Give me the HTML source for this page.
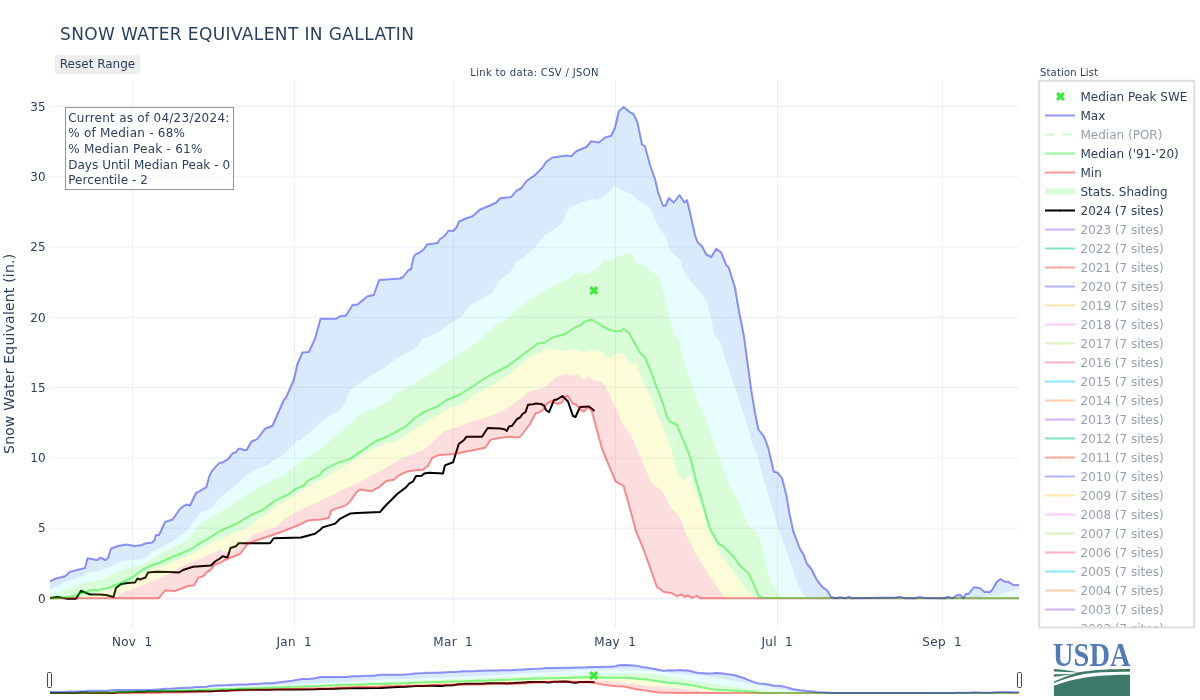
<!DOCTYPE html>
<html lang="en"><head><meta charset="utf-8"><title>Snow Water Equivalent in Gallatin</title>
<style>
html,body{margin:0;padding:0;background:#fff;}
body{width:1200px;height:700px;overflow:hidden;position:relative;font-family:"DejaVu Sans", "Liberation Sans", sans-serif;}
svg{position:absolute;left:0;top:0;display:block;}
svg text{font-family:"DejaVu Sans", "Liberation Sans", sans-serif;fill:#2a3f5f;white-space:pre;}
</style></head><body>
<svg width="1200" height="700" viewBox="0 0 1200 700">
<rect width="1200" height="700" fill="#fff"/>
<defs>
<clipPath id="plotclip"><rect x="50" y="80" width="969" height="548"/></clipPath>
<clipPath id="legclip"><rect x="1040.2" y="81.8" width="153" height="544.7"/></clipPath>
<clipPath id="sliderclip"><rect x="50" y="660" width="969" height="36"/></clipPath>
</defs>

<g><path d="M132.5,80V628" stroke="#ebf0f8" stroke-width="1"/>
<path d="M294.5,80V628" stroke="#ebf0f8" stroke-width="1"/>
<path d="M453.5,80V628" stroke="#ebf0f8" stroke-width="1"/>
<path d="M615.5,80V628" stroke="#ebf0f8" stroke-width="1"/>
<path d="M777.5,80V628" stroke="#ebf0f8" stroke-width="1"/>
<path d="M942.5,80V628" stroke="#ebf0f8" stroke-width="1"/>
<path d="M50,528.15H1019" stroke="#ebf0f8" stroke-width="1"/>
<path d="M50,457.9H1019" stroke="#ebf0f8" stroke-width="1"/>
<path d="M50,387.6H1019" stroke="#ebf0f8" stroke-width="1"/>
<path d="M50,317.4H1019" stroke="#ebf0f8" stroke-width="1"/>
<path d="M50,247.1H1019" stroke="#ebf0f8" stroke-width="1"/>
<path d="M50,176.85H1019" stroke="#ebf0f8" stroke-width="1"/>
<path d="M50,106.6H1019" stroke="#ebf0f8" stroke-width="1"/>
<path d="M50,598.4H1019" stroke="#ebf0f8" stroke-width="2"/></g>
<g clip-path="url(#plotclip)"><path d="M50.00,598.00 L57.50,597.00 L67.50,598.75 L76.00,598.75 L81.00,590.75 L90.00,594.50 L100.00,594.50 L106.00,595.00 L113.50,597.00 L116.00,588.00 L121.00,584.00 L128.00,583.00 L135.00,582.50 L137.50,578.50 L140.00,579.50 L145.50,577.50 L148.00,572.50 L156.00,571.80 L170.00,572.00 L179.00,572.50 L183.00,570.00 L193.00,566.80 L211.00,565.50 L215.00,561.50 L220.00,558.50 L222.50,556.25 L227.50,557.50 L230.50,548.00 L236.00,546.25 L238.75,543.25 L270.00,543.25 L273.75,538.25 L301.00,537.50 L315.00,533.75 L320.00,530.00 L322.60,527.39 L335.17,523.62 L339.57,519.22 L350.01,513.56 L357.50,513.00 L380.00,512.00 L385.00,506.25 L397.50,493.75 L405.95,487.39 L409.10,483.62 L412.87,481.73 L416.01,476.07 L421.67,475.69 L424.19,473.56 L429.22,472.68 L443.05,473.56 L444.93,465.38 L453.11,462.24 L455.62,454.07 L458.76,444.01 L463.79,440.24 L466.31,436.84 L482.03,436.84 L487.68,427.91 L500.00,428.50 L504.50,429.30 L506.80,431.00 L509.00,426.50 L512.00,425.80 L517.00,419.00 L520.00,417.50 L522.50,414.00 L525.50,412.20 L528.00,404.80 L533.00,404.30 L536.00,403.50 L541.00,404.00 L544.00,405.50 L546.00,410.00 L549.00,412.20 L554.00,400.00 L557.00,399.50 L562.50,396.00 L568.00,401.50 L573.00,416.00 L575.50,417.00 L580.00,407.00 L589.00,406.50 L594.50,411.00" fill="none" stroke="#000" stroke-width="2" stroke-linejoin="round" vector-effect="non-scaling-stroke"/>
<path d="M50.00,598.25 L113.00,598.20 L120.00,594.00 L125.00,591.00 L133.00,589.00 L140.00,586.50 L150.00,582.00 L160.00,578.50 L168.00,574.00 L176.00,570.00 L180.00,567.00 L190.00,563.00 L200.00,559.00 L210.00,554.00 L215.00,552.00 L220.00,550.00 L230.00,552.50 L245.00,542.50 L252.50,535.00 L265.00,530.00 L275.44,528.02 L285.50,517.96 L294.30,512.93 L306.88,506.64 L319.45,501.61 L332.03,495.33 L342.08,490.30 L350.01,486.52 L360.06,481.73 L368.86,476.70 L381.43,470.41 L391.49,464.13 L400.30,459.10 L412.87,454.07 L422.93,450.30 L431.73,442.75 L438.02,436.46 L445.56,430.18 L456.88,427.66 L469.45,422.00 L482.03,418.86 L494.60,414.46 L500.00,412.00 L510.00,406.00 L520.00,399.00 L528.00,392.00 L533.00,390.00 L540.00,389.50 L545.00,387.00 L550.00,383.00 L555.00,377.50 L565.00,373.75 L573.75,376.25 L577.50,373.75 L583.75,380.00 L588.75,376.25 L593.00,380.00 L600.00,381.50 L605.00,385.00 L610.00,396.00 L615.00,406.00 L620.00,417.00 L620.60,421.00 L631.80,436.70 L640.00,456.20 L651.30,482.70 L662.40,491.00 L670.80,507.70 L679.00,516.00 L687.50,537.00 L695.80,553.70 L707.00,571.80 L715.30,584.30 L723.70,596.90 L726.00,598.25 L1019.00,598.25 L1019.00,598.25 L700.00,598.25 L697.20,596.00 L691.70,597.70 L687.50,595.50 L684.70,597.00 L681.40,594.40 L677.00,596.30 L672.20,593.30 L663.80,592.00 L656.90,587.00 L650.00,567.60 L643.00,548.00 L636.00,531.40 L629.50,507.00 L623.50,486.00 L615.50,481.30 L602.00,449.00 L592.00,412.00 L590.00,408.50 L587.00,408.00 L584.00,411.50 L582.00,411.00 L576.00,404.50 L573.00,404.00 L567.50,396.00 L564.00,397.50 L562.00,402.50 L557.00,404.00 L552.00,401.00 L546.50,404.00 L544.00,409.00 L540.00,412.00 L535.50,413.50 L530.00,424.00 L524.00,432.00 L520.00,437.00 L515.00,437.50 L509.00,436.80 L500.00,438.00 L490.83,439.61 L485.17,447.78 L475.74,449.67 L463.16,452.18 L454.36,454.07 L438.02,455.33 L432.36,457.84 L427.96,466.01 L422.93,469.78 L415.38,470.16 L406.58,471.67 L397.78,476.07 L394.01,479.84 L386.46,481.10 L378.92,487.39 L371.25,491.25 L360.00,489.50 L356.25,492.50 L350.01,501.61 L345.86,505.38 L338.31,507.90 L331.40,510.41 L328.88,517.96 L320.71,519.47 L308.14,520.47 L300.59,524.24 L293.05,527.39 L280.00,532.50 L270.00,536.00 L257.50,540.00 L247.50,544.00 L240.00,554.00 L225.00,560.00 L220.00,563.00 L215.00,564.50 L210.00,570.50 L207.00,572.00 L203.00,576.50 L198.50,577.50 L194.00,585.50 L188.00,586.00 L175.00,591.00 L165.00,590.50 L159.00,598.20 L50.00,598.25Z" fill="rgba(237,0,0,0.13)"/>
<path d="M50.00,598.25 L77.50,598.00 L100.00,592.00 L110.00,590.00 L120.00,587.00 L128.00,583.00 L134.00,580.00 L142.00,574.00 L150.00,570.50 L160.00,567.00 L170.00,563.00 L180.00,559.00 L190.00,555.00 L200.00,549.50 L210.00,544.00 L215.00,540.00 L220.00,540.00 L235.00,532.50 L246.52,528.02 L256.58,520.47 L266.64,514.19 L275.44,506.64 L288.02,499.10 L294.30,495.33 L306.88,487.78 L319.45,480.24 L332.03,473.32 L342.08,467.66 L350.01,462.63 L360.06,456.58 L372.63,449.04 L385.21,444.01 L394.01,441.49 L402.81,437.72 L415.38,428.92 L425.44,422.63 L438.02,415.09 L450.59,407.54 L463.16,403.77 L466.94,400.00 L480.00,391.00 L492.50,385.00 L505.00,377.50 L517.50,367.50 L530.00,357.50 L540.00,352.50 L547.50,347.50 L555.00,350.00 L565.00,351.25 L573.75,348.75 L585.00,352.50 L593.75,350.00 L602.50,352.50 L607.50,358.75 L615.00,355.00 L622.50,352.50 L630.00,363.75 L636.25,362.50 L640.00,375.00 L646.25,387.50 L652.50,402.50 L658.75,417.50 L661.00,422.00 L670.80,447.90 L679.00,477.00 L684.70,479.90 L688.90,474.30 L695.80,492.40 L707.00,523.00 L715.30,545.30 L726.50,562.00 L734.80,573.20 L746.00,589.90 L754.30,596.90 L757.00,598.25 L1019.00,598.25 L1019.00,598.25 L726.00,598.25 L723.70,596.90 L715.30,584.30 L707.00,571.80 L695.80,553.70 L687.50,537.00 L679.00,516.00 L670.80,507.70 L662.40,491.00 L651.30,482.70 L640.00,456.20 L631.80,436.70 L620.60,421.00 L620.00,417.00 L615.00,406.00 L610.00,396.00 L605.00,385.00 L600.00,381.50 L593.00,380.00 L588.75,376.25 L583.75,380.00 L577.50,373.75 L573.75,376.25 L565.00,373.75 L555.00,377.50 L550.00,383.00 L545.00,387.00 L540.00,389.50 L533.00,390.00 L528.00,392.00 L520.00,399.00 L510.00,406.00 L500.00,412.00 L494.60,414.46 L482.03,418.86 L469.45,422.00 L456.88,427.66 L445.56,430.18 L438.02,436.46 L431.73,442.75 L422.93,450.30 L412.87,454.07 L400.30,459.10 L391.49,464.13 L381.43,470.41 L368.86,476.70 L360.06,481.73 L350.01,486.52 L342.08,490.30 L332.03,495.33 L319.45,501.61 L306.88,506.64 L294.30,512.93 L285.50,517.96 L275.44,528.02 L265.00,530.00 L252.50,535.00 L245.00,542.50 L230.00,552.50 L220.00,550.00 L215.00,552.00 L210.00,554.00 L200.00,559.00 L190.00,563.00 L180.00,567.00 L176.00,570.00 L168.00,574.00 L160.00,578.50 L150.00,582.00 L140.00,586.50 L133.00,589.00 L125.00,591.00 L120.00,594.00 L113.00,598.20 L50.00,598.25Z" fill="rgba(237,237,0,0.15)"/>
<path d="M50.00,595.00 L65.00,590.00 L80.00,584.50 L90.00,581.00 L100.00,580.00 L110.00,576.00 L120.00,571.00 L130.00,567.50 L140.00,565.00 L148.00,561.50 L156.00,556.50 L165.00,551.50 L175.00,547.00 L185.00,542.00 L188.00,540.00 L200.00,523.62 L212.57,516.70 L225.15,509.16 L237.72,500.35 L250.30,492.81 L260.35,486.52 L270.41,481.49 L281.73,476.46 L294.30,467.03 L306.88,457.60 L319.45,450.06 L330.77,440.00 L340.00,432.00 L350.00,424.52 L357.54,416.35 L368.86,410.06 L381.43,405.03 L390.24,400.00 L395.00,393.75 L410.00,386.25 L425.00,377.50 L440.00,366.25 L455.00,357.50 L470.00,347.50 L480.00,340.00 L495.00,325.00 L505.00,320.00 L515.00,311.25 L525.00,302.50 L537.50,295.00 L550.00,287.50 L560.00,282.50 L570.00,278.75 L576.25,272.00 L587.50,273.75 L597.50,268.75 L603.75,260.00 L610.00,261.25 L616.25,256.25 L631.25,253.00 L636.25,262.50 L645.00,266.25 L652.50,272.50 L658.75,277.50 L663.75,292.50 L668.75,315.00 L673.75,335.00 L678.75,340.00 L682.50,357.50 L687.50,372.50 L692.50,385.00 L697.50,400.00 L703.75,415.00 L707.00,422.00 L712.60,439.50 L720.90,461.80 L729.30,485.50 L737.60,499.40 L743.20,514.70 L748.80,525.80 L757.10,532.80 L762.70,548.10 L768.30,573.20 L773.80,587.10 L780.80,596.90 L785.00,598.25 L1019.00,598.25 L1019.00,598.25 L757.00,598.25 L754.30,596.90 L746.00,589.90 L734.80,573.20 L726.50,562.00 L715.30,545.30 L707.00,523.00 L695.80,492.40 L688.90,474.30 L684.70,479.90 L679.00,477.00 L670.80,447.90 L661.00,422.00 L658.75,417.50 L652.50,402.50 L646.25,387.50 L640.00,375.00 L636.25,362.50 L630.00,363.75 L622.50,352.50 L615.00,355.00 L607.50,358.75 L602.50,352.50 L593.75,350.00 L585.00,352.50 L573.75,348.75 L565.00,351.25 L555.00,350.00 L547.50,347.50 L540.00,352.50 L530.00,357.50 L517.50,367.50 L505.00,377.50 L492.50,385.00 L480.00,391.00 L466.94,400.00 L463.16,403.77 L450.59,407.54 L438.02,415.09 L425.44,422.63 L415.38,428.92 L402.81,437.72 L394.01,441.49 L385.21,444.01 L372.63,449.04 L360.06,456.58 L350.01,462.63 L342.08,467.66 L332.03,473.32 L319.45,480.24 L306.88,487.78 L294.30,495.33 L288.02,499.10 L275.44,506.64 L266.64,514.19 L256.58,520.47 L246.52,528.02 L235.00,532.50 L220.00,540.00 L215.00,540.00 L210.00,544.00 L200.00,549.50 L190.00,555.00 L180.00,559.00 L170.00,563.00 L160.00,567.00 L150.00,570.50 L142.00,574.00 L134.00,580.00 L128.00,583.00 L120.00,587.00 L110.00,590.00 L100.00,592.00 L77.50,598.00 L50.00,598.25Z" fill="rgba(0,237,0,0.15)"/>
<path d="M50.00,589.50 L65.00,582.50 L80.00,577.00 L90.00,572.00 L100.00,571.00 L110.00,567.00 L120.00,561.50 L130.00,560.00 L140.00,559.50 L147.00,557.00 L152.00,552.00 L160.00,548.00 L170.00,543.00 L174.00,540.00 L187.50,530.00 L200.00,512.93 L211.32,508.53 L218.86,499.10 L228.92,490.30 L237.72,484.01 L247.78,473.95 L257.84,468.92 L267.90,465.15 L275.44,458.86 L282.99,455.09 L290.53,447.54 L298.08,440.00 L301.00,440.00 L312.50,430.00 L325.00,418.75 L340.00,410.00 L345.00,402.50 L350.00,390.00 L357.50,385.00 L370.00,376.25 L385.00,367.50 L400.00,356.25 L415.00,348.75 L422.50,338.75 L437.50,332.50 L447.50,325.00 L460.00,317.50 L470.00,305.00 L480.00,300.00 L492.50,292.50 L498.75,281.25 L510.00,272.50 L516.25,262.50 L525.00,256.25 L535.00,247.50 L545.00,235.00 L555.00,228.75 L562.50,222.50 L567.50,210.00 L575.00,205.00 L585.00,201.25 L592.50,198.75 L595.00,200.00 L602.50,197.50 L608.75,192.50 L613.75,185.50 L622.50,190.50 L632.50,195.00 L640.00,202.00 L650.00,207.50 L658.75,227.50 L666.25,237.50 L670.00,250.00 L680.00,260.00 L683.75,271.25 L693.75,285.00 L702.50,295.00 L707.50,303.75 L711.25,320.00 L715.00,336.25 L720.00,341.25 L725.00,357.50 L730.00,372.50 L735.00,387.50 L740.00,402.50 L745.00,417.50 L747.50,425.00 L751.60,442.30 L757.10,453.40 L764.10,481.30 L771.00,503.60 L779.40,531.40 L787.80,553.70 L796.10,578.80 L801.70,592.70 L807.30,597.20 L812.00,598.25 L980.00,598.25 L985.00,597.00 L998.50,595.00 L1007.50,592.00 L1019.00,588.75 L1019.00,598.25 L785.00,598.25 L780.80,596.90 L773.80,587.10 L768.30,573.20 L762.70,548.10 L757.10,532.80 L748.80,525.80 L743.20,514.70 L737.60,499.40 L729.30,485.50 L720.90,461.80 L712.60,439.50 L707.00,422.00 L703.75,415.00 L697.50,400.00 L692.50,385.00 L687.50,372.50 L682.50,357.50 L678.75,340.00 L673.75,335.00 L668.75,315.00 L663.75,292.50 L658.75,277.50 L652.50,272.50 L645.00,266.25 L636.25,262.50 L631.25,253.00 L616.25,256.25 L610.00,261.25 L603.75,260.00 L597.50,268.75 L587.50,273.75 L576.25,272.00 L570.00,278.75 L560.00,282.50 L550.00,287.50 L537.50,295.00 L525.00,302.50 L515.00,311.25 L505.00,320.00 L495.00,325.00 L480.00,340.00 L470.00,347.50 L455.00,357.50 L440.00,366.25 L425.00,377.50 L410.00,386.25 L395.00,393.75 L390.24,400.00 L381.43,405.03 L368.86,410.06 L357.54,416.35 L350.00,424.52 L340.00,432.00 L330.77,440.00 L319.45,450.06 L306.88,457.60 L294.30,467.03 L281.73,476.46 L270.41,481.49 L260.35,486.52 L250.30,492.81 L237.72,500.35 L225.15,509.16 L212.57,516.70 L200.00,523.62 L188.00,540.00 L185.00,542.00 L175.00,547.00 L165.00,551.50 L156.00,556.50 L148.00,561.50 L140.00,565.00 L130.00,567.50 L120.00,571.00 L110.00,576.00 L100.00,580.00 L90.00,581.00 L80.00,584.50 L65.00,590.00 L50.00,595.00Z" fill="rgba(0,237,237,0.09)"/>
<path d="M50.00,581.25 L55.00,578.75 L65.00,576.25 L70.00,571.75 L85.00,568.00 L87.50,558.25 L97.50,560.00 L100.00,557.50 L105.50,560.00 L108.00,558.00 L111.00,548.50 L118.00,546.00 L126.00,544.50 L135.00,546.00 L142.00,545.00 L145.00,543.50 L152.00,542.50 L154.50,540.00 L156.00,535.00 L159.00,535.00 L165.00,522.00 L172.50,519.50 L180.00,508.75 L186.00,504.50 L190.00,505.50 L196.00,493.00 L200.00,490.92 L206.29,487.15 L209.43,475.84 L211.95,470.81 L219.49,462.63 L222.63,462.38 L228.29,458.86 L232.69,453.20 L235.84,452.57 L238.35,448.80 L241.49,448.80 L243.38,450.06 L246.52,450.06 L251.55,441.26 L255.33,440.00 L257.50,438.75 L265.00,428.75 L272.50,425.75 L283.75,400.00 L286.00,397.50 L293.75,380.00 L297.50,363.75 L302.50,352.50 L308.75,352.00 L315.00,338.75 L320.50,318.75 L336.00,318.75 L340.00,316.25 L346.00,315.50 L352.50,305.00 L357.50,304.50 L367.50,296.25 L373.75,295.00 L375.50,290.00 L379.00,280.00 L400.00,278.50 L403.00,277.00 L408.00,270.50 L411.00,269.00 L413.50,257.50 L416.00,254.00 L419.00,253.00 L424.00,249.00 L427.00,244.50 L437.50,243.00 L440.00,239.00 L444.00,236.50 L448.50,230.70 L453.50,230.70 L456.50,227.50 L459.00,221.50 L465.00,218.75 L472.50,216.25 L480.00,209.50 L490.00,205.50 L496.25,202.50 L500.00,198.25 L511.25,197.00 L516.25,190.75 L521.25,188.25 L526.25,181.25 L535.00,175.00 L542.50,167.50 L546.25,161.75 L552.50,157.50 L566.25,155.50 L571.25,156.25 L576.25,151.25 L586.25,147.00 L591.25,141.25 L598.75,142.50 L605.00,137.50 L611.25,135.75 L615.00,127.50 L618.75,111.25 L623.75,107.00 L629.50,112.00 L633.75,114.25 L637.50,122.50 L642.00,144.50 L645.00,146.25 L650.00,165.00 L655.00,178.75 L658.00,192.00 L663.00,205.75 L665.50,205.75 L668.75,198.00 L673.75,202.50 L679.50,195.00 L684.50,202.50 L687.00,200.00 L690.00,212.50 L695.00,235.00 L697.50,242.00 L702.00,246.25 L706.25,254.50 L711.25,257.00 L716.25,248.75 L721.25,252.50 L726.25,265.00 L728.75,267.50 L735.00,287.50 L738.75,310.00 L743.75,335.00 L747.50,362.50 L751.25,390.00 L755.00,412.50 L757.50,425.00 L758.50,429.70 L764.10,436.70 L768.30,447.90 L773.80,471.50 L778.00,472.90 L782.20,478.50 L786.40,495.20 L789.20,511.90 L793.30,531.40 L800.30,549.50 L803.90,555.10 L806.70,563.50 L811.40,569.00 L817.00,580.20 L822.60,587.10 L827.30,590.50 L830.90,596.90 L835.10,598.30 L840.70,597.20 L844.90,598.30 L849.00,596.60 L851.80,598.30 L895.30,597.60 L899.60,596.75 L904.90,598.15 L915.40,598.15 L920.10,596.90 L924.10,598.00 L944.50,598.30 L947.50,596.60 L952.40,598.10 L957.25,595.10 L960.25,594.75 L963.25,598.10 L965.90,593.85 L968.50,593.85 L973.75,587.25 L979.75,588.00 L984.60,592.00 L989.90,592.00 L992.50,589.50 L997.00,581.60 L1000.40,579.00 L1005.25,581.85 L1008.25,581.85 L1013.50,585.00 L1019.00,584.85 L1019.00,588.75 L1007.50,592.00 L998.50,595.00 L985.00,597.00 L980.00,598.25 L812.00,598.25 L807.30,597.20 L801.70,592.70 L796.10,578.80 L787.80,553.70 L779.40,531.40 L771.00,503.60 L764.10,481.30 L757.10,453.40 L751.60,442.30 L747.50,425.00 L745.00,417.50 L740.00,402.50 L735.00,387.50 L730.00,372.50 L725.00,357.50 L720.00,341.25 L715.00,336.25 L711.25,320.00 L707.50,303.75 L702.50,295.00 L693.75,285.00 L683.75,271.25 L680.00,260.00 L670.00,250.00 L666.25,237.50 L658.75,227.50 L650.00,207.50 L640.00,202.00 L632.50,195.00 L622.50,190.50 L613.75,185.50 L608.75,192.50 L602.50,197.50 L595.00,200.00 L592.50,198.75 L585.00,201.25 L575.00,205.00 L567.50,210.00 L562.50,222.50 L555.00,228.75 L545.00,235.00 L535.00,247.50 L525.00,256.25 L516.25,262.50 L510.00,272.50 L498.75,281.25 L492.50,292.50 L480.00,300.00 L470.00,305.00 L460.00,317.50 L447.50,325.00 L437.50,332.50 L422.50,338.75 L415.00,348.75 L400.00,356.25 L385.00,367.50 L370.00,376.25 L357.50,385.00 L350.00,390.00 L345.00,402.50 L340.00,410.00 L325.00,418.75 L312.50,430.00 L301.00,440.00 L298.08,440.00 L290.53,447.54 L282.99,455.09 L275.44,458.86 L267.90,465.15 L257.84,468.92 L247.78,473.95 L237.72,484.01 L228.92,490.30 L218.86,499.10 L211.32,508.53 L200.00,512.93 L187.50,530.00 L174.00,540.00 L170.00,543.00 L160.00,548.00 L152.00,552.00 L147.00,557.00 L140.00,559.50 L130.00,560.00 L120.00,561.50 L110.00,567.00 L100.00,571.00 L90.00,572.00 L80.00,577.00 L65.00,582.50 L50.00,589.50Z" fill="rgba(0,115,237,0.15)"/>
<path d="M50.00,598.25 L159.00,598.20 L165.00,590.50 L175.00,591.00 L188.00,586.00 L194.00,585.50 L198.50,577.50 L203.00,576.50 L207.00,572.00 L210.00,570.50 L215.00,564.50 L220.00,563.00 L225.00,560.00 L240.00,554.00 L247.50,544.00 L257.50,540.00 L270.00,536.00 L280.00,532.50 L293.05,527.39 L300.59,524.24 L308.14,520.47 L320.71,519.47 L328.88,517.96 L331.40,510.41 L338.31,507.90 L345.86,505.38 L350.01,501.61 L356.25,492.50 L360.00,489.50 L371.25,491.25 L378.92,487.39 L386.46,481.10 L394.01,479.84 L397.78,476.07 L406.58,471.67 L415.38,470.16 L422.93,469.78 L427.96,466.01 L432.36,457.84 L438.02,455.33 L454.36,454.07 L463.16,452.18 L475.74,449.67 L485.17,447.78 L490.83,439.61 L500.00,438.00 L509.00,436.80 L515.00,437.50 L520.00,437.00 L524.00,432.00 L530.00,424.00 L535.50,413.50 L540.00,412.00 L544.00,409.00 L546.50,404.00 L552.00,401.00 L557.00,404.00 L562.00,402.50 L564.00,397.50 L567.50,396.00 L573.00,404.00 L576.00,404.50 L582.00,411.00 L584.00,411.50 L587.00,408.00 L590.00,408.50 L592.00,412.00 L602.00,449.00 L615.50,481.30 L623.50,486.00 L629.50,507.00 L636.00,531.40 L643.00,548.00 L650.00,567.60 L656.90,587.00 L663.80,592.00 L672.20,593.30 L677.00,596.30 L681.40,594.40 L684.70,597.00 L687.50,595.50 L691.70,597.70 L697.20,596.00 L700.00,598.25 L1019.00,598.25" fill="none" stroke="rgba(237,0,0,0.42)" stroke-width="2" stroke-linejoin="round" vector-effect="non-scaling-stroke"/>
<path d="M50.00,598.50 L62.00,598.00 L68.00,597.25 L73.00,596.00 L76.00,595.00 L80.00,593.50 L86.00,592.00 L91.00,590.00 L95.00,589.75 L98.00,590.75 L100.00,589.50 L108.00,588.00 L116.00,585.00 L124.00,581.50 L132.00,577.50 L138.00,573.00 L143.00,569.50 L150.00,566.00 L160.00,562.50 L170.00,558.00 L180.00,554.00 L190.00,549.50 L196.00,546.00 L200.00,543.00 L206.00,540.00 L220.00,531.00 L228.29,527.39 L237.72,522.99 L250.30,515.44 L262.87,509.78 L275.44,500.35 L288.02,494.70 L294.30,489.67 L304.36,485.27 L307.51,480.87 L319.45,475.21 L323.85,469.55 L338.31,462.63 L350.01,458.86 L362.57,450.30 L375.15,441.49 L387.72,436.46 L400.30,429.55 L406.58,425.78 L415.38,417.60 L425.44,411.32 L438.02,406.29 L446.82,400.00 L460.00,394.50 L475.00,385.00 L480.00,381.25 L495.00,372.50 L507.50,366.25 L522.50,355.00 L537.50,343.75 L545.00,342.50 L552.50,337.50 L565.00,334.25 L575.00,327.50 L581.25,325.00 L583.75,322.00 L591.25,319.50 L597.50,323.00 L602.50,326.25 L610.00,330.00 L616.25,331.25 L621.25,331.25 L623.00,328.75 L628.75,332.50 L635.00,343.75 L640.00,352.50 L645.00,357.50 L651.25,372.50 L656.25,386.25 L660.00,395.00 L663.75,406.25 L666.25,415.00 L669.40,421.40 L676.90,425.00 L684.70,443.70 L690.30,457.60 L695.80,479.90 L702.80,503.60 L709.80,528.60 L718.70,544.00 L723.70,546.70 L734.80,557.90 L739.00,564.80 L748.80,573.80 L754.30,585.70 L758.50,595.50 L762.70,598.00 L1019.00,598.25" fill="none" stroke="rgba(0,237,0,0.42)" stroke-width="2" stroke-linejoin="round" vector-effect="non-scaling-stroke"/>
<path d="M50.00,581.25 L55.00,578.75 L65.00,576.25 L70.00,571.75 L85.00,568.00 L87.50,558.25 L97.50,560.00 L100.00,557.50 L105.50,560.00 L108.00,558.00 L111.00,548.50 L118.00,546.00 L126.00,544.50 L135.00,546.00 L142.00,545.00 L145.00,543.50 L152.00,542.50 L154.50,540.00 L156.00,535.00 L159.00,535.00 L165.00,522.00 L172.50,519.50 L180.00,508.75 L186.00,504.50 L190.00,505.50 L196.00,493.00 L200.00,490.92 L206.29,487.15 L209.43,475.84 L211.95,470.81 L219.49,462.63 L222.63,462.38 L228.29,458.86 L232.69,453.20 L235.84,452.57 L238.35,448.80 L241.49,448.80 L243.38,450.06 L246.52,450.06 L251.55,441.26 L255.33,440.00 L257.50,438.75 L265.00,428.75 L272.50,425.75 L283.75,400.00 L286.00,397.50 L293.75,380.00 L297.50,363.75 L302.50,352.50 L308.75,352.00 L315.00,338.75 L320.50,318.75 L336.00,318.75 L340.00,316.25 L346.00,315.50 L352.50,305.00 L357.50,304.50 L367.50,296.25 L373.75,295.00 L375.50,290.00 L379.00,280.00 L400.00,278.50 L403.00,277.00 L408.00,270.50 L411.00,269.00 L413.50,257.50 L416.00,254.00 L419.00,253.00 L424.00,249.00 L427.00,244.50 L437.50,243.00 L440.00,239.00 L444.00,236.50 L448.50,230.70 L453.50,230.70 L456.50,227.50 L459.00,221.50 L465.00,218.75 L472.50,216.25 L480.00,209.50 L490.00,205.50 L496.25,202.50 L500.00,198.25 L511.25,197.00 L516.25,190.75 L521.25,188.25 L526.25,181.25 L535.00,175.00 L542.50,167.50 L546.25,161.75 L552.50,157.50 L566.25,155.50 L571.25,156.25 L576.25,151.25 L586.25,147.00 L591.25,141.25 L598.75,142.50 L605.00,137.50 L611.25,135.75 L615.00,127.50 L618.75,111.25 L623.75,107.00 L629.50,112.00 L633.75,114.25 L637.50,122.50 L642.00,144.50 L645.00,146.25 L650.00,165.00 L655.00,178.75 L658.00,192.00 L663.00,205.75 L665.50,205.75 L668.75,198.00 L673.75,202.50 L679.50,195.00 L684.50,202.50 L687.00,200.00 L690.00,212.50 L695.00,235.00 L697.50,242.00 L702.00,246.25 L706.25,254.50 L711.25,257.00 L716.25,248.75 L721.25,252.50 L726.25,265.00 L728.75,267.50 L735.00,287.50 L738.75,310.00 L743.75,335.00 L747.50,362.50 L751.25,390.00 L755.00,412.50 L757.50,425.00 L758.50,429.70 L764.10,436.70 L768.30,447.90 L773.80,471.50 L778.00,472.90 L782.20,478.50 L786.40,495.20 L789.20,511.90 L793.30,531.40 L800.30,549.50 L803.90,555.10 L806.70,563.50 L811.40,569.00 L817.00,580.20 L822.60,587.10 L827.30,590.50 L830.90,596.90 L835.10,598.30 L840.70,597.20 L844.90,598.30 L849.00,596.60 L851.80,598.30 L895.30,597.60 L899.60,596.75 L904.90,598.15 L915.40,598.15 L920.10,596.90 L924.10,598.00 L944.50,598.30 L947.50,596.60 L952.40,598.10 L957.25,595.10 L960.25,594.75 L963.25,598.10 L965.90,593.85 L968.50,593.85 L973.75,587.25 L979.75,588.00 L984.60,592.00 L989.90,592.00 L992.50,589.50 L997.00,581.60 L1000.40,579.00 L1005.25,581.85 L1008.25,581.85 L1013.50,585.00 L1019.00,584.85" fill="none" stroke="rgba(0,0,237,0.42)" stroke-width="2" stroke-linejoin="round" vector-effect="non-scaling-stroke"/><path transform="translate(593.75,290.5)" d="M0,2.26l2.26,2.26l2.26,-2.26l-2.26,-2.26l2.26,-2.26l-2.26,-2.26l-2.26,2.26l-2.26,-2.26l-2.26,2.26l2.26,2.26l-2.26,2.26l2.26,2.26Z" fill="#3deb3d"/></g>
<g><text x="132.2" y="646" text-anchor="middle" font-size="12" letter-spacing="0.3">Nov  1</text>
<text x="294.2" y="646" text-anchor="middle" font-size="12" letter-spacing="0.3">Jan  1</text>
<text x="453.2" y="646" text-anchor="middle" font-size="12" letter-spacing="0.3">Mar  1</text>
<text x="615.2" y="646" text-anchor="middle" font-size="12" letter-spacing="0.3">May  1</text>
<text x="777.2" y="646" text-anchor="middle" font-size="12" letter-spacing="0.3">Jul  1</text>
<text x="942.2" y="646" text-anchor="middle" font-size="12" letter-spacing="0.3">Sep  1</text>
<text x="45.6" y="532.4" text-anchor="end" font-size="12">5</text>
<text x="45.6" y="462.1" text-anchor="end" font-size="12">10</text>
<text x="45.6" y="391.8" text-anchor="end" font-size="12">15</text>
<text x="45.6" y="321.6" text-anchor="end" font-size="12">20</text>
<text x="45.6" y="251.3" text-anchor="end" font-size="12">25</text>
<text x="45.6" y="181.0" text-anchor="end" font-size="12">30</text>
<text x="45.6" y="110.8" text-anchor="end" font-size="12">35</text>
<text x="45.6" y="602.6" text-anchor="end" font-size="12">0</text></g>
<text transform="translate(14,353.8) rotate(-90)" text-anchor="middle" font-size="14" letter-spacing="0.2">Snow Water Equivalent (in.)</text>
<text x="60" y="40" font-size="17" letter-spacing="0.38">SNOW WATER EQUIVALENT IN GALLATIN</text>
<rect x="55" y="55" width="85" height="19" rx="2.5" ry="2.5" fill="#eeeeee"/>
<text x="97.5" y="68" text-anchor="middle" font-size="12">Reset Range</text>
<text x="534.5" y="76" text-anchor="middle" font-size="10" letter-spacing="0.33">Link to data: CSV / JSON</text>
<text x="1040" y="76" font-size="10" letter-spacing="0.17">Station List</text>
<rect x="65.5" y="107.5" width="168" height="82" fill="rgba(255,255,255,0.55)" stroke="#969696" stroke-width="1"/>
<text x="68.2" y="121.8" font-size="12" letter-spacing="0.26">Current as of 04/23/2024:</text>
<text x="68.2" y="137.4" font-size="12" letter-spacing="0.24">% of Median - 68%</text>
<text x="68.2" y="153.0" font-size="12" letter-spacing="0.24">% Median Peak - 61%</text>
<text x="68.2" y="168.6" font-size="12" letter-spacing="0.04">Days Until Median Peak - 0</text>
<text x="68.2" y="184.2" font-size="12" letter-spacing="0.07">Percentile - 2</text>
<rect x="1039.2" y="80.8" width="155" height="546.7" fill="#fff" stroke="#dedede" stroke-width="2"/>
<g clip-path="url(#legclip)"><g opacity="1"><path transform="translate(1060.5,96.5)" d="M0,2.26l2.26,2.26l2.26,-2.26l-2.26,-2.26l2.26,-2.26l-2.26,-2.26l-2.26,2.26l-2.26,-2.26l-2.26,2.26l2.26,2.26l-2.26,2.26l2.26,2.26Z" fill="#3deb3d"/><text x="1080.5" y="100.9" font-size="12">Median Peak SWE</text></g>
<g opacity="1"><path d="M1045,115.5h30" stroke="rgba(0,0,237,0.42)" stroke-width="2"/><text x="1080.5" y="119.9" font-size="12">Max</text></g>
<g opacity="0.5"><path d="M1045,134.5h30" stroke="rgba(0,237,0,0.4)" stroke-width="2" stroke-dasharray="9,9"/><text x="1080.5" y="138.9" font-size="12">Median (POR)</text></g>
<g opacity="1"><path d="M1045,153.5h30" stroke="rgba(0,237,0,0.42)" stroke-width="2"/><text x="1080.5" y="157.9" font-size="12">Median ('91-'20)</text></g>
<g opacity="1"><path d="M1045,172.5h30" stroke="rgba(237,0,0,0.42)" stroke-width="2"/><text x="1080.5" y="176.9" font-size="12">Min</text></g>
<g opacity="1"><rect x="1045" y="188.5" width="30" height="6" fill="rgba(0,237,0,0.15)"/><text x="1080.5" y="195.9" font-size="12">Stats. Shading</text></g>
<g opacity="1"><path d="M1045,210.5h30" stroke="#000" stroke-width="2"/><circle cx="1060" cy="210.5" r="1" fill="#000"/><text x="1080.5" y="214.9" font-size="12">2024 (7 sites)</text></g>
<g opacity="0.5"><path d="M1045,229.5h30" stroke="#ab63fa" stroke-width="2"/><circle cx="1060" cy="229.5" r="1" fill="#ab63fa"/><text x="1080.5" y="233.9" font-size="12">2023 (7 sites)</text></g>
<g opacity="0.5"><path d="M1045,248.5h30" stroke="#00cc96" stroke-width="2"/><circle cx="1060" cy="248.5" r="1" fill="#00cc96"/><text x="1080.5" y="252.9" font-size="12">2022 (7 sites)</text></g>
<g opacity="0.5"><path d="M1045,267.5h30" stroke="#EF553B" stroke-width="2"/><circle cx="1060" cy="267.5" r="1" fill="#EF553B"/><text x="1080.5" y="271.9" font-size="12">2021 (7 sites)</text></g>
<g opacity="0.5"><path d="M1045,286.5h30" stroke="#636efa" stroke-width="2"/><circle cx="1060" cy="286.5" r="1" fill="#636efa"/><text x="1080.5" y="290.9" font-size="12">2020 (7 sites)</text></g>
<g opacity="0.5"><path d="M1045,305.5h30" stroke="#FECB52" stroke-width="2"/><circle cx="1060" cy="305.5" r="1" fill="#FECB52"/><text x="1080.5" y="309.9" font-size="12">2019 (7 sites)</text></g>
<g opacity="0.5"><path d="M1045,324.5h30" stroke="#FF97FF" stroke-width="2"/><circle cx="1060" cy="324.5" r="1" fill="#FF97FF"/><text x="1080.5" y="328.9" font-size="12">2018 (7 sites)</text></g>
<g opacity="0.5"><path d="M1045,343.5h30" stroke="#B6E880" stroke-width="2"/><circle cx="1060" cy="343.5" r="1" fill="#B6E880"/><text x="1080.5" y="347.9" font-size="12">2017 (7 sites)</text></g>
<g opacity="0.5"><path d="M1045,362.5h30" stroke="#FF6692" stroke-width="2"/><circle cx="1060" cy="362.5" r="1" fill="#FF6692"/><text x="1080.5" y="366.9" font-size="12">2016 (7 sites)</text></g>
<g opacity="0.5"><path d="M1045,381.5h30" stroke="#19d3f3" stroke-width="2"/><circle cx="1060" cy="381.5" r="1" fill="#19d3f3"/><text x="1080.5" y="385.9" font-size="12">2015 (7 sites)</text></g>
<g opacity="0.5"><path d="M1045,400.5h30" stroke="#FFA15A" stroke-width="2"/><circle cx="1060" cy="400.5" r="1" fill="#FFA15A"/><text x="1080.5" y="404.9" font-size="12">2014 (7 sites)</text></g>
<g opacity="0.5"><path d="M1045,419.5h30" stroke="#ab63fa" stroke-width="2"/><circle cx="1060" cy="419.5" r="1" fill="#ab63fa"/><text x="1080.5" y="423.9" font-size="12">2013 (7 sites)</text></g>
<g opacity="0.5"><path d="M1045,438.5h30" stroke="#00cc96" stroke-width="2"/><circle cx="1060" cy="438.5" r="1" fill="#00cc96"/><text x="1080.5" y="442.9" font-size="12">2012 (7 sites)</text></g>
<g opacity="0.5"><path d="M1045,457.5h30" stroke="#EF553B" stroke-width="2"/><circle cx="1060" cy="457.5" r="1" fill="#EF553B"/><text x="1080.5" y="461.9" font-size="12">2011 (7 sites)</text></g>
<g opacity="0.5"><path d="M1045,476.5h30" stroke="#636efa" stroke-width="2"/><circle cx="1060" cy="476.5" r="1" fill="#636efa"/><text x="1080.5" y="480.9" font-size="12">2010 (7 sites)</text></g>
<g opacity="0.5"><path d="M1045,495.5h30" stroke="#FECB52" stroke-width="2"/><circle cx="1060" cy="495.5" r="1" fill="#FECB52"/><text x="1080.5" y="499.9" font-size="12">2009 (7 sites)</text></g>
<g opacity="0.5"><path d="M1045,514.5h30" stroke="#FF97FF" stroke-width="2"/><circle cx="1060" cy="514.5" r="1" fill="#FF97FF"/><text x="1080.5" y="518.9" font-size="12">2008 (7 sites)</text></g>
<g opacity="0.5"><path d="M1045,533.5h30" stroke="#B6E880" stroke-width="2"/><circle cx="1060" cy="533.5" r="1" fill="#B6E880"/><text x="1080.5" y="537.9" font-size="12">2007 (7 sites)</text></g>
<g opacity="0.5"><path d="M1045,552.5h30" stroke="#FF6692" stroke-width="2"/><circle cx="1060" cy="552.5" r="1" fill="#FF6692"/><text x="1080.5" y="556.9" font-size="12">2006 (7 sites)</text></g>
<g opacity="0.5"><path d="M1045,571.5h30" stroke="#19d3f3" stroke-width="2"/><circle cx="1060" cy="571.5" r="1" fill="#19d3f3"/><text x="1080.5" y="575.9" font-size="12">2005 (7 sites)</text></g>
<g opacity="0.5"><path d="M1045,590.5h30" stroke="#FFA15A" stroke-width="2"/><circle cx="1060" cy="590.5" r="1" fill="#FFA15A"/><text x="1080.5" y="594.9" font-size="12">2004 (7 sites)</text></g>
<g opacity="0.5"><path d="M1045,609.5h30" stroke="#ab63fa" stroke-width="2"/><circle cx="1060" cy="609.5" r="1" fill="#ab63fa"/><text x="1080.5" y="613.9" font-size="12">2003 (7 sites)</text></g>
<g opacity="0.5"><path d="M1045,628.5h30" stroke="#00cc96" stroke-width="2"/><circle cx="1060" cy="628.5" r="1" fill="#00cc96"/><text x="1080.5" y="632.9" font-size="12">2002 (7 sites)</text></g></g>
<g clip-path="url(#sliderclip)"><g transform="translate(0,658.900) scale(1,0.057)"><path d="M50.00,598.00 L57.50,597.00 L67.50,598.75 L76.00,598.75 L81.00,590.75 L90.00,594.50 L100.00,594.50 L106.00,595.00 L113.50,597.00 L116.00,588.00 L121.00,584.00 L128.00,583.00 L135.00,582.50 L137.50,578.50 L140.00,579.50 L145.50,577.50 L148.00,572.50 L156.00,571.80 L170.00,572.00 L179.00,572.50 L183.00,570.00 L193.00,566.80 L211.00,565.50 L215.00,561.50 L220.00,558.50 L222.50,556.25 L227.50,557.50 L230.50,548.00 L236.00,546.25 L238.75,543.25 L270.00,543.25 L273.75,538.25 L301.00,537.50 L315.00,533.75 L320.00,530.00 L322.60,527.39 L335.17,523.62 L339.57,519.22 L350.01,513.56 L357.50,513.00 L380.00,512.00 L385.00,506.25 L397.50,493.75 L405.95,487.39 L409.10,483.62 L412.87,481.73 L416.01,476.07 L421.67,475.69 L424.19,473.56 L429.22,472.68 L443.05,473.56 L444.93,465.38 L453.11,462.24 L455.62,454.07 L458.76,444.01 L463.79,440.24 L466.31,436.84 L482.03,436.84 L487.68,427.91 L500.00,428.50 L504.50,429.30 L506.80,431.00 L509.00,426.50 L512.00,425.80 L517.00,419.00 L520.00,417.50 L522.50,414.00 L525.50,412.20 L528.00,404.80 L533.00,404.30 L536.00,403.50 L541.00,404.00 L544.00,405.50 L546.00,410.00 L549.00,412.20 L554.00,400.00 L557.00,399.50 L562.50,396.00 L568.00,401.50 L573.00,416.00 L575.50,417.00 L580.00,407.00 L589.00,406.50 L594.50,411.00" fill="none" stroke="#000" stroke-width="2" stroke-linejoin="round" vector-effect="non-scaling-stroke"/>
<path d="M50.00,598.25 L113.00,598.20 L120.00,594.00 L125.00,591.00 L133.00,589.00 L140.00,586.50 L150.00,582.00 L160.00,578.50 L168.00,574.00 L176.00,570.00 L180.00,567.00 L190.00,563.00 L200.00,559.00 L210.00,554.00 L215.00,552.00 L220.00,550.00 L230.00,552.50 L245.00,542.50 L252.50,535.00 L265.00,530.00 L275.44,528.02 L285.50,517.96 L294.30,512.93 L306.88,506.64 L319.45,501.61 L332.03,495.33 L342.08,490.30 L350.01,486.52 L360.06,481.73 L368.86,476.70 L381.43,470.41 L391.49,464.13 L400.30,459.10 L412.87,454.07 L422.93,450.30 L431.73,442.75 L438.02,436.46 L445.56,430.18 L456.88,427.66 L469.45,422.00 L482.03,418.86 L494.60,414.46 L500.00,412.00 L510.00,406.00 L520.00,399.00 L528.00,392.00 L533.00,390.00 L540.00,389.50 L545.00,387.00 L550.00,383.00 L555.00,377.50 L565.00,373.75 L573.75,376.25 L577.50,373.75 L583.75,380.00 L588.75,376.25 L593.00,380.00 L600.00,381.50 L605.00,385.00 L610.00,396.00 L615.00,406.00 L620.00,417.00 L620.60,421.00 L631.80,436.70 L640.00,456.20 L651.30,482.70 L662.40,491.00 L670.80,507.70 L679.00,516.00 L687.50,537.00 L695.80,553.70 L707.00,571.80 L715.30,584.30 L723.70,596.90 L726.00,598.25 L1019.00,598.25 L1019.00,598.25 L700.00,598.25 L697.20,596.00 L691.70,597.70 L687.50,595.50 L684.70,597.00 L681.40,594.40 L677.00,596.30 L672.20,593.30 L663.80,592.00 L656.90,587.00 L650.00,567.60 L643.00,548.00 L636.00,531.40 L629.50,507.00 L623.50,486.00 L615.50,481.30 L602.00,449.00 L592.00,412.00 L590.00,408.50 L587.00,408.00 L584.00,411.50 L582.00,411.00 L576.00,404.50 L573.00,404.00 L567.50,396.00 L564.00,397.50 L562.00,402.50 L557.00,404.00 L552.00,401.00 L546.50,404.00 L544.00,409.00 L540.00,412.00 L535.50,413.50 L530.00,424.00 L524.00,432.00 L520.00,437.00 L515.00,437.50 L509.00,436.80 L500.00,438.00 L490.83,439.61 L485.17,447.78 L475.74,449.67 L463.16,452.18 L454.36,454.07 L438.02,455.33 L432.36,457.84 L427.96,466.01 L422.93,469.78 L415.38,470.16 L406.58,471.67 L397.78,476.07 L394.01,479.84 L386.46,481.10 L378.92,487.39 L371.25,491.25 L360.00,489.50 L356.25,492.50 L350.01,501.61 L345.86,505.38 L338.31,507.90 L331.40,510.41 L328.88,517.96 L320.71,519.47 L308.14,520.47 L300.59,524.24 L293.05,527.39 L280.00,532.50 L270.00,536.00 L257.50,540.00 L247.50,544.00 L240.00,554.00 L225.00,560.00 L220.00,563.00 L215.00,564.50 L210.00,570.50 L207.00,572.00 L203.00,576.50 L198.50,577.50 L194.00,585.50 L188.00,586.00 L175.00,591.00 L165.00,590.50 L159.00,598.20 L50.00,598.25Z" fill="rgba(237,0,0,0.13)"/>
<path d="M50.00,598.25 L77.50,598.00 L100.00,592.00 L110.00,590.00 L120.00,587.00 L128.00,583.00 L134.00,580.00 L142.00,574.00 L150.00,570.50 L160.00,567.00 L170.00,563.00 L180.00,559.00 L190.00,555.00 L200.00,549.50 L210.00,544.00 L215.00,540.00 L220.00,540.00 L235.00,532.50 L246.52,528.02 L256.58,520.47 L266.64,514.19 L275.44,506.64 L288.02,499.10 L294.30,495.33 L306.88,487.78 L319.45,480.24 L332.03,473.32 L342.08,467.66 L350.01,462.63 L360.06,456.58 L372.63,449.04 L385.21,444.01 L394.01,441.49 L402.81,437.72 L415.38,428.92 L425.44,422.63 L438.02,415.09 L450.59,407.54 L463.16,403.77 L466.94,400.00 L480.00,391.00 L492.50,385.00 L505.00,377.50 L517.50,367.50 L530.00,357.50 L540.00,352.50 L547.50,347.50 L555.00,350.00 L565.00,351.25 L573.75,348.75 L585.00,352.50 L593.75,350.00 L602.50,352.50 L607.50,358.75 L615.00,355.00 L622.50,352.50 L630.00,363.75 L636.25,362.50 L640.00,375.00 L646.25,387.50 L652.50,402.50 L658.75,417.50 L661.00,422.00 L670.80,447.90 L679.00,477.00 L684.70,479.90 L688.90,474.30 L695.80,492.40 L707.00,523.00 L715.30,545.30 L726.50,562.00 L734.80,573.20 L746.00,589.90 L754.30,596.90 L757.00,598.25 L1019.00,598.25 L1019.00,598.25 L726.00,598.25 L723.70,596.90 L715.30,584.30 L707.00,571.80 L695.80,553.70 L687.50,537.00 L679.00,516.00 L670.80,507.70 L662.40,491.00 L651.30,482.70 L640.00,456.20 L631.80,436.70 L620.60,421.00 L620.00,417.00 L615.00,406.00 L610.00,396.00 L605.00,385.00 L600.00,381.50 L593.00,380.00 L588.75,376.25 L583.75,380.00 L577.50,373.75 L573.75,376.25 L565.00,373.75 L555.00,377.50 L550.00,383.00 L545.00,387.00 L540.00,389.50 L533.00,390.00 L528.00,392.00 L520.00,399.00 L510.00,406.00 L500.00,412.00 L494.60,414.46 L482.03,418.86 L469.45,422.00 L456.88,427.66 L445.56,430.18 L438.02,436.46 L431.73,442.75 L422.93,450.30 L412.87,454.07 L400.30,459.10 L391.49,464.13 L381.43,470.41 L368.86,476.70 L360.06,481.73 L350.01,486.52 L342.08,490.30 L332.03,495.33 L319.45,501.61 L306.88,506.64 L294.30,512.93 L285.50,517.96 L275.44,528.02 L265.00,530.00 L252.50,535.00 L245.00,542.50 L230.00,552.50 L220.00,550.00 L215.00,552.00 L210.00,554.00 L200.00,559.00 L190.00,563.00 L180.00,567.00 L176.00,570.00 L168.00,574.00 L160.00,578.50 L150.00,582.00 L140.00,586.50 L133.00,589.00 L125.00,591.00 L120.00,594.00 L113.00,598.20 L50.00,598.25Z" fill="rgba(237,237,0,0.15)"/>
<path d="M50.00,595.00 L65.00,590.00 L80.00,584.50 L90.00,581.00 L100.00,580.00 L110.00,576.00 L120.00,571.00 L130.00,567.50 L140.00,565.00 L148.00,561.50 L156.00,556.50 L165.00,551.50 L175.00,547.00 L185.00,542.00 L188.00,540.00 L200.00,523.62 L212.57,516.70 L225.15,509.16 L237.72,500.35 L250.30,492.81 L260.35,486.52 L270.41,481.49 L281.73,476.46 L294.30,467.03 L306.88,457.60 L319.45,450.06 L330.77,440.00 L340.00,432.00 L350.00,424.52 L357.54,416.35 L368.86,410.06 L381.43,405.03 L390.24,400.00 L395.00,393.75 L410.00,386.25 L425.00,377.50 L440.00,366.25 L455.00,357.50 L470.00,347.50 L480.00,340.00 L495.00,325.00 L505.00,320.00 L515.00,311.25 L525.00,302.50 L537.50,295.00 L550.00,287.50 L560.00,282.50 L570.00,278.75 L576.25,272.00 L587.50,273.75 L597.50,268.75 L603.75,260.00 L610.00,261.25 L616.25,256.25 L631.25,253.00 L636.25,262.50 L645.00,266.25 L652.50,272.50 L658.75,277.50 L663.75,292.50 L668.75,315.00 L673.75,335.00 L678.75,340.00 L682.50,357.50 L687.50,372.50 L692.50,385.00 L697.50,400.00 L703.75,415.00 L707.00,422.00 L712.60,439.50 L720.90,461.80 L729.30,485.50 L737.60,499.40 L743.20,514.70 L748.80,525.80 L757.10,532.80 L762.70,548.10 L768.30,573.20 L773.80,587.10 L780.80,596.90 L785.00,598.25 L1019.00,598.25 L1019.00,598.25 L757.00,598.25 L754.30,596.90 L746.00,589.90 L734.80,573.20 L726.50,562.00 L715.30,545.30 L707.00,523.00 L695.80,492.40 L688.90,474.30 L684.70,479.90 L679.00,477.00 L670.80,447.90 L661.00,422.00 L658.75,417.50 L652.50,402.50 L646.25,387.50 L640.00,375.00 L636.25,362.50 L630.00,363.75 L622.50,352.50 L615.00,355.00 L607.50,358.75 L602.50,352.50 L593.75,350.00 L585.00,352.50 L573.75,348.75 L565.00,351.25 L555.00,350.00 L547.50,347.50 L540.00,352.50 L530.00,357.50 L517.50,367.50 L505.00,377.50 L492.50,385.00 L480.00,391.00 L466.94,400.00 L463.16,403.77 L450.59,407.54 L438.02,415.09 L425.44,422.63 L415.38,428.92 L402.81,437.72 L394.01,441.49 L385.21,444.01 L372.63,449.04 L360.06,456.58 L350.01,462.63 L342.08,467.66 L332.03,473.32 L319.45,480.24 L306.88,487.78 L294.30,495.33 L288.02,499.10 L275.44,506.64 L266.64,514.19 L256.58,520.47 L246.52,528.02 L235.00,532.50 L220.00,540.00 L215.00,540.00 L210.00,544.00 L200.00,549.50 L190.00,555.00 L180.00,559.00 L170.00,563.00 L160.00,567.00 L150.00,570.50 L142.00,574.00 L134.00,580.00 L128.00,583.00 L120.00,587.00 L110.00,590.00 L100.00,592.00 L77.50,598.00 L50.00,598.25Z" fill="rgba(0,237,0,0.15)"/>
<path d="M50.00,589.50 L65.00,582.50 L80.00,577.00 L90.00,572.00 L100.00,571.00 L110.00,567.00 L120.00,561.50 L130.00,560.00 L140.00,559.50 L147.00,557.00 L152.00,552.00 L160.00,548.00 L170.00,543.00 L174.00,540.00 L187.50,530.00 L200.00,512.93 L211.32,508.53 L218.86,499.10 L228.92,490.30 L237.72,484.01 L247.78,473.95 L257.84,468.92 L267.90,465.15 L275.44,458.86 L282.99,455.09 L290.53,447.54 L298.08,440.00 L301.00,440.00 L312.50,430.00 L325.00,418.75 L340.00,410.00 L345.00,402.50 L350.00,390.00 L357.50,385.00 L370.00,376.25 L385.00,367.50 L400.00,356.25 L415.00,348.75 L422.50,338.75 L437.50,332.50 L447.50,325.00 L460.00,317.50 L470.00,305.00 L480.00,300.00 L492.50,292.50 L498.75,281.25 L510.00,272.50 L516.25,262.50 L525.00,256.25 L535.00,247.50 L545.00,235.00 L555.00,228.75 L562.50,222.50 L567.50,210.00 L575.00,205.00 L585.00,201.25 L592.50,198.75 L595.00,200.00 L602.50,197.50 L608.75,192.50 L613.75,185.50 L622.50,190.50 L632.50,195.00 L640.00,202.00 L650.00,207.50 L658.75,227.50 L666.25,237.50 L670.00,250.00 L680.00,260.00 L683.75,271.25 L693.75,285.00 L702.50,295.00 L707.50,303.75 L711.25,320.00 L715.00,336.25 L720.00,341.25 L725.00,357.50 L730.00,372.50 L735.00,387.50 L740.00,402.50 L745.00,417.50 L747.50,425.00 L751.60,442.30 L757.10,453.40 L764.10,481.30 L771.00,503.60 L779.40,531.40 L787.80,553.70 L796.10,578.80 L801.70,592.70 L807.30,597.20 L812.00,598.25 L980.00,598.25 L985.00,597.00 L998.50,595.00 L1007.50,592.00 L1019.00,588.75 L1019.00,598.25 L785.00,598.25 L780.80,596.90 L773.80,587.10 L768.30,573.20 L762.70,548.10 L757.10,532.80 L748.80,525.80 L743.20,514.70 L737.60,499.40 L729.30,485.50 L720.90,461.80 L712.60,439.50 L707.00,422.00 L703.75,415.00 L697.50,400.00 L692.50,385.00 L687.50,372.50 L682.50,357.50 L678.75,340.00 L673.75,335.00 L668.75,315.00 L663.75,292.50 L658.75,277.50 L652.50,272.50 L645.00,266.25 L636.25,262.50 L631.25,253.00 L616.25,256.25 L610.00,261.25 L603.75,260.00 L597.50,268.75 L587.50,273.75 L576.25,272.00 L570.00,278.75 L560.00,282.50 L550.00,287.50 L537.50,295.00 L525.00,302.50 L515.00,311.25 L505.00,320.00 L495.00,325.00 L480.00,340.00 L470.00,347.50 L455.00,357.50 L440.00,366.25 L425.00,377.50 L410.00,386.25 L395.00,393.75 L390.24,400.00 L381.43,405.03 L368.86,410.06 L357.54,416.35 L350.00,424.52 L340.00,432.00 L330.77,440.00 L319.45,450.06 L306.88,457.60 L294.30,467.03 L281.73,476.46 L270.41,481.49 L260.35,486.52 L250.30,492.81 L237.72,500.35 L225.15,509.16 L212.57,516.70 L200.00,523.62 L188.00,540.00 L185.00,542.00 L175.00,547.00 L165.00,551.50 L156.00,556.50 L148.00,561.50 L140.00,565.00 L130.00,567.50 L120.00,571.00 L110.00,576.00 L100.00,580.00 L90.00,581.00 L80.00,584.50 L65.00,590.00 L50.00,595.00Z" fill="rgba(0,237,237,0.09)"/>
<path d="M50.00,581.25 L55.00,578.75 L65.00,576.25 L70.00,571.75 L85.00,568.00 L87.50,558.25 L97.50,560.00 L100.00,557.50 L105.50,560.00 L108.00,558.00 L111.00,548.50 L118.00,546.00 L126.00,544.50 L135.00,546.00 L142.00,545.00 L145.00,543.50 L152.00,542.50 L154.50,540.00 L156.00,535.00 L159.00,535.00 L165.00,522.00 L172.50,519.50 L180.00,508.75 L186.00,504.50 L190.00,505.50 L196.00,493.00 L200.00,490.92 L206.29,487.15 L209.43,475.84 L211.95,470.81 L219.49,462.63 L222.63,462.38 L228.29,458.86 L232.69,453.20 L235.84,452.57 L238.35,448.80 L241.49,448.80 L243.38,450.06 L246.52,450.06 L251.55,441.26 L255.33,440.00 L257.50,438.75 L265.00,428.75 L272.50,425.75 L283.75,400.00 L286.00,397.50 L293.75,380.00 L297.50,363.75 L302.50,352.50 L308.75,352.00 L315.00,338.75 L320.50,318.75 L336.00,318.75 L340.00,316.25 L346.00,315.50 L352.50,305.00 L357.50,304.50 L367.50,296.25 L373.75,295.00 L375.50,290.00 L379.00,280.00 L400.00,278.50 L403.00,277.00 L408.00,270.50 L411.00,269.00 L413.50,257.50 L416.00,254.00 L419.00,253.00 L424.00,249.00 L427.00,244.50 L437.50,243.00 L440.00,239.00 L444.00,236.50 L448.50,230.70 L453.50,230.70 L456.50,227.50 L459.00,221.50 L465.00,218.75 L472.50,216.25 L480.00,209.50 L490.00,205.50 L496.25,202.50 L500.00,198.25 L511.25,197.00 L516.25,190.75 L521.25,188.25 L526.25,181.25 L535.00,175.00 L542.50,167.50 L546.25,161.75 L552.50,157.50 L566.25,155.50 L571.25,156.25 L576.25,151.25 L586.25,147.00 L591.25,141.25 L598.75,142.50 L605.00,137.50 L611.25,135.75 L615.00,127.50 L618.75,111.25 L623.75,107.00 L629.50,112.00 L633.75,114.25 L637.50,122.50 L642.00,144.50 L645.00,146.25 L650.00,165.00 L655.00,178.75 L658.00,192.00 L663.00,205.75 L665.50,205.75 L668.75,198.00 L673.75,202.50 L679.50,195.00 L684.50,202.50 L687.00,200.00 L690.00,212.50 L695.00,235.00 L697.50,242.00 L702.00,246.25 L706.25,254.50 L711.25,257.00 L716.25,248.75 L721.25,252.50 L726.25,265.00 L728.75,267.50 L735.00,287.50 L738.75,310.00 L743.75,335.00 L747.50,362.50 L751.25,390.00 L755.00,412.50 L757.50,425.00 L758.50,429.70 L764.10,436.70 L768.30,447.90 L773.80,471.50 L778.00,472.90 L782.20,478.50 L786.40,495.20 L789.20,511.90 L793.30,531.40 L800.30,549.50 L803.90,555.10 L806.70,563.50 L811.40,569.00 L817.00,580.20 L822.60,587.10 L827.30,590.50 L830.90,596.90 L835.10,598.30 L840.70,597.20 L844.90,598.30 L849.00,596.60 L851.80,598.30 L895.30,597.60 L899.60,596.75 L904.90,598.15 L915.40,598.15 L920.10,596.90 L924.10,598.00 L944.50,598.30 L947.50,596.60 L952.40,598.10 L957.25,595.10 L960.25,594.75 L963.25,598.10 L965.90,593.85 L968.50,593.85 L973.75,587.25 L979.75,588.00 L984.60,592.00 L989.90,592.00 L992.50,589.50 L997.00,581.60 L1000.40,579.00 L1005.25,581.85 L1008.25,581.85 L1013.50,585.00 L1019.00,584.85 L1019.00,588.75 L1007.50,592.00 L998.50,595.00 L985.00,597.00 L980.00,598.25 L812.00,598.25 L807.30,597.20 L801.70,592.70 L796.10,578.80 L787.80,553.70 L779.40,531.40 L771.00,503.60 L764.10,481.30 L757.10,453.40 L751.60,442.30 L747.50,425.00 L745.00,417.50 L740.00,402.50 L735.00,387.50 L730.00,372.50 L725.00,357.50 L720.00,341.25 L715.00,336.25 L711.25,320.00 L707.50,303.75 L702.50,295.00 L693.75,285.00 L683.75,271.25 L680.00,260.00 L670.00,250.00 L666.25,237.50 L658.75,227.50 L650.00,207.50 L640.00,202.00 L632.50,195.00 L622.50,190.50 L613.75,185.50 L608.75,192.50 L602.50,197.50 L595.00,200.00 L592.50,198.75 L585.00,201.25 L575.00,205.00 L567.50,210.00 L562.50,222.50 L555.00,228.75 L545.00,235.00 L535.00,247.50 L525.00,256.25 L516.25,262.50 L510.00,272.50 L498.75,281.25 L492.50,292.50 L480.00,300.00 L470.00,305.00 L460.00,317.50 L447.50,325.00 L437.50,332.50 L422.50,338.75 L415.00,348.75 L400.00,356.25 L385.00,367.50 L370.00,376.25 L357.50,385.00 L350.00,390.00 L345.00,402.50 L340.00,410.00 L325.00,418.75 L312.50,430.00 L301.00,440.00 L298.08,440.00 L290.53,447.54 L282.99,455.09 L275.44,458.86 L267.90,465.15 L257.84,468.92 L247.78,473.95 L237.72,484.01 L228.92,490.30 L218.86,499.10 L211.32,508.53 L200.00,512.93 L187.50,530.00 L174.00,540.00 L170.00,543.00 L160.00,548.00 L152.00,552.00 L147.00,557.00 L140.00,559.50 L130.00,560.00 L120.00,561.50 L110.00,567.00 L100.00,571.00 L90.00,572.00 L80.00,577.00 L65.00,582.50 L50.00,589.50Z" fill="rgba(0,115,237,0.15)"/>
<path d="M50.00,598.25 L159.00,598.20 L165.00,590.50 L175.00,591.00 L188.00,586.00 L194.00,585.50 L198.50,577.50 L203.00,576.50 L207.00,572.00 L210.00,570.50 L215.00,564.50 L220.00,563.00 L225.00,560.00 L240.00,554.00 L247.50,544.00 L257.50,540.00 L270.00,536.00 L280.00,532.50 L293.05,527.39 L300.59,524.24 L308.14,520.47 L320.71,519.47 L328.88,517.96 L331.40,510.41 L338.31,507.90 L345.86,505.38 L350.01,501.61 L356.25,492.50 L360.00,489.50 L371.25,491.25 L378.92,487.39 L386.46,481.10 L394.01,479.84 L397.78,476.07 L406.58,471.67 L415.38,470.16 L422.93,469.78 L427.96,466.01 L432.36,457.84 L438.02,455.33 L454.36,454.07 L463.16,452.18 L475.74,449.67 L485.17,447.78 L490.83,439.61 L500.00,438.00 L509.00,436.80 L515.00,437.50 L520.00,437.00 L524.00,432.00 L530.00,424.00 L535.50,413.50 L540.00,412.00 L544.00,409.00 L546.50,404.00 L552.00,401.00 L557.00,404.00 L562.00,402.50 L564.00,397.50 L567.50,396.00 L573.00,404.00 L576.00,404.50 L582.00,411.00 L584.00,411.50 L587.00,408.00 L590.00,408.50 L592.00,412.00 L602.00,449.00 L615.50,481.30 L623.50,486.00 L629.50,507.00 L636.00,531.40 L643.00,548.00 L650.00,567.60 L656.90,587.00 L663.80,592.00 L672.20,593.30 L677.00,596.30 L681.40,594.40 L684.70,597.00 L687.50,595.50 L691.70,597.70 L697.20,596.00 L700.00,598.25 L1019.00,598.25" fill="none" stroke="rgba(237,0,0,0.42)" stroke-width="2" stroke-linejoin="round" vector-effect="non-scaling-stroke"/>
<path d="M50.00,598.50 L62.00,598.00 L68.00,597.25 L73.00,596.00 L76.00,595.00 L80.00,593.50 L86.00,592.00 L91.00,590.00 L95.00,589.75 L98.00,590.75 L100.00,589.50 L108.00,588.00 L116.00,585.00 L124.00,581.50 L132.00,577.50 L138.00,573.00 L143.00,569.50 L150.00,566.00 L160.00,562.50 L170.00,558.00 L180.00,554.00 L190.00,549.50 L196.00,546.00 L200.00,543.00 L206.00,540.00 L220.00,531.00 L228.29,527.39 L237.72,522.99 L250.30,515.44 L262.87,509.78 L275.44,500.35 L288.02,494.70 L294.30,489.67 L304.36,485.27 L307.51,480.87 L319.45,475.21 L323.85,469.55 L338.31,462.63 L350.01,458.86 L362.57,450.30 L375.15,441.49 L387.72,436.46 L400.30,429.55 L406.58,425.78 L415.38,417.60 L425.44,411.32 L438.02,406.29 L446.82,400.00 L460.00,394.50 L475.00,385.00 L480.00,381.25 L495.00,372.50 L507.50,366.25 L522.50,355.00 L537.50,343.75 L545.00,342.50 L552.50,337.50 L565.00,334.25 L575.00,327.50 L581.25,325.00 L583.75,322.00 L591.25,319.50 L597.50,323.00 L602.50,326.25 L610.00,330.00 L616.25,331.25 L621.25,331.25 L623.00,328.75 L628.75,332.50 L635.00,343.75 L640.00,352.50 L645.00,357.50 L651.25,372.50 L656.25,386.25 L660.00,395.00 L663.75,406.25 L666.25,415.00 L669.40,421.40 L676.90,425.00 L684.70,443.70 L690.30,457.60 L695.80,479.90 L702.80,503.60 L709.80,528.60 L718.70,544.00 L723.70,546.70 L734.80,557.90 L739.00,564.80 L748.80,573.80 L754.30,585.70 L758.50,595.50 L762.70,598.00 L1019.00,598.25" fill="none" stroke="rgba(0,237,0,0.42)" stroke-width="2" stroke-linejoin="round" vector-effect="non-scaling-stroke"/>
<path d="M50.00,581.25 L55.00,578.75 L65.00,576.25 L70.00,571.75 L85.00,568.00 L87.50,558.25 L97.50,560.00 L100.00,557.50 L105.50,560.00 L108.00,558.00 L111.00,548.50 L118.00,546.00 L126.00,544.50 L135.00,546.00 L142.00,545.00 L145.00,543.50 L152.00,542.50 L154.50,540.00 L156.00,535.00 L159.00,535.00 L165.00,522.00 L172.50,519.50 L180.00,508.75 L186.00,504.50 L190.00,505.50 L196.00,493.00 L200.00,490.92 L206.29,487.15 L209.43,475.84 L211.95,470.81 L219.49,462.63 L222.63,462.38 L228.29,458.86 L232.69,453.20 L235.84,452.57 L238.35,448.80 L241.49,448.80 L243.38,450.06 L246.52,450.06 L251.55,441.26 L255.33,440.00 L257.50,438.75 L265.00,428.75 L272.50,425.75 L283.75,400.00 L286.00,397.50 L293.75,380.00 L297.50,363.75 L302.50,352.50 L308.75,352.00 L315.00,338.75 L320.50,318.75 L336.00,318.75 L340.00,316.25 L346.00,315.50 L352.50,305.00 L357.50,304.50 L367.50,296.25 L373.75,295.00 L375.50,290.00 L379.00,280.00 L400.00,278.50 L403.00,277.00 L408.00,270.50 L411.00,269.00 L413.50,257.50 L416.00,254.00 L419.00,253.00 L424.00,249.00 L427.00,244.50 L437.50,243.00 L440.00,239.00 L444.00,236.50 L448.50,230.70 L453.50,230.70 L456.50,227.50 L459.00,221.50 L465.00,218.75 L472.50,216.25 L480.00,209.50 L490.00,205.50 L496.25,202.50 L500.00,198.25 L511.25,197.00 L516.25,190.75 L521.25,188.25 L526.25,181.25 L535.00,175.00 L542.50,167.50 L546.25,161.75 L552.50,157.50 L566.25,155.50 L571.25,156.25 L576.25,151.25 L586.25,147.00 L591.25,141.25 L598.75,142.50 L605.00,137.50 L611.25,135.75 L615.00,127.50 L618.75,111.25 L623.75,107.00 L629.50,112.00 L633.75,114.25 L637.50,122.50 L642.00,144.50 L645.00,146.25 L650.00,165.00 L655.00,178.75 L658.00,192.00 L663.00,205.75 L665.50,205.75 L668.75,198.00 L673.75,202.50 L679.50,195.00 L684.50,202.50 L687.00,200.00 L690.00,212.50 L695.00,235.00 L697.50,242.00 L702.00,246.25 L706.25,254.50 L711.25,257.00 L716.25,248.75 L721.25,252.50 L726.25,265.00 L728.75,267.50 L735.00,287.50 L738.75,310.00 L743.75,335.00 L747.50,362.50 L751.25,390.00 L755.00,412.50 L757.50,425.00 L758.50,429.70 L764.10,436.70 L768.30,447.90 L773.80,471.50 L778.00,472.90 L782.20,478.50 L786.40,495.20 L789.20,511.90 L793.30,531.40 L800.30,549.50 L803.90,555.10 L806.70,563.50 L811.40,569.00 L817.00,580.20 L822.60,587.10 L827.30,590.50 L830.90,596.90 L835.10,598.30 L840.70,597.20 L844.90,598.30 L849.00,596.60 L851.80,598.30 L895.30,597.60 L899.60,596.75 L904.90,598.15 L915.40,598.15 L920.10,596.90 L924.10,598.00 L944.50,598.30 L947.50,596.60 L952.40,598.10 L957.25,595.10 L960.25,594.75 L963.25,598.10 L965.90,593.85 L968.50,593.85 L973.75,587.25 L979.75,588.00 L984.60,592.00 L989.90,592.00 L992.50,589.50 L997.00,581.60 L1000.40,579.00 L1005.25,581.85 L1008.25,581.85 L1013.50,585.00 L1019.00,584.85" fill="none" stroke="rgba(0,0,237,0.42)" stroke-width="2" stroke-linejoin="round" vector-effect="non-scaling-stroke"/></g><path transform="translate(593.75,675.46)" d="M0,2.26l2.26,2.26l2.26,-2.26l-2.26,-2.26l2.26,-2.26l-2.26,-2.26l-2.26,2.26l-2.26,-2.26l-2.26,2.26l2.26,2.26l-2.26,2.26l2.26,2.26Z" fill="#3deb3d"/></g>
<rect x="47.5" y="672.5" width="4" height="15" rx="1" fill="#fff" stroke="#444" stroke-width="1"/>
<rect x="1017.5" y="672.5" width="4" height="15" rx="1" fill="#fff" stroke="#444" stroke-width="1"/>
<g id="usda">
<text x="1053" y="666" font-size="33.8" font-weight="bold" textLength="77.5" lengthAdjust="spacingAndGlyphs" style="font-family:'Liberation Serif','DejaVu Serif',serif;fill:#527ab8;">USDA</text>
<g fill="#3e7a6a">
<path d="M1053.9,669.1 C1062,669.6 1071,670.8 1078.6,672.4 C1070,672.2 1062,671.8 1053.9,671.5 Z"/>
<path d="M1053.9,674.2 L1073.8,673.9 C1067,675 1060,676 1053.9,676.8 Z"/>
<path d="M1054,683 L1054,681.5 C1062,678 1070,674.9 1078.4,672.3 C1094,669.7 1112,669.0 1130,669.0 L1130,671.8 C1112,671.6 1097,672.2 1084,674.1 C1074,676.1 1064,679.1 1054,683Z"/>
<path d="M1053.9,685.8 C1064,681.8 1076,678.6 1090.7,676.7 C1104,675.2 1117,674.8 1130,674.8 L1130,695.9 L1053.9,695.9 Z"/>
</g>
</g>
</svg></body></html>
